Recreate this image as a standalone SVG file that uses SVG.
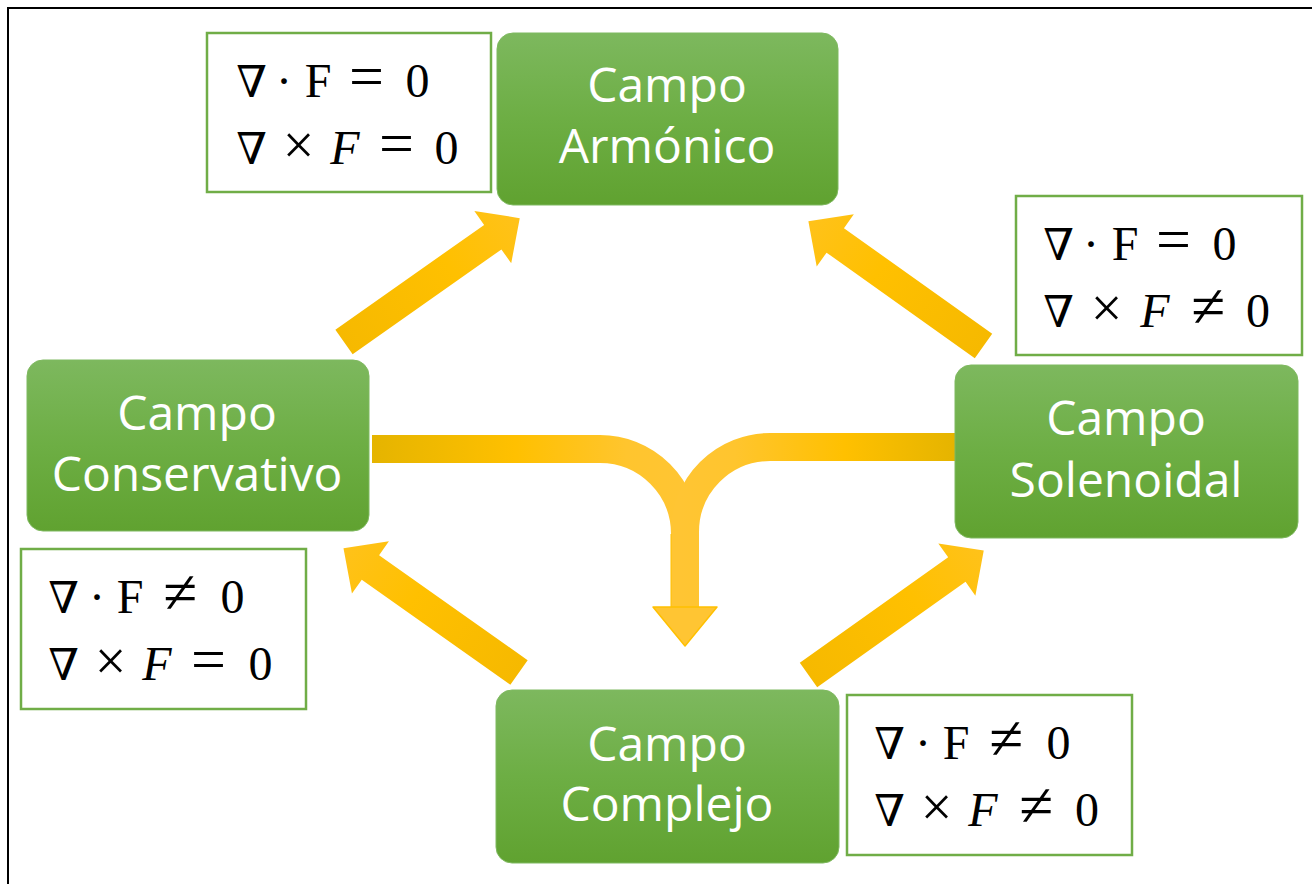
<svg xmlns="http://www.w3.org/2000/svg" width="1312" height="884" viewBox="0 0 1312 884">
<defs>
<linearGradient id="gNode" x1="0" y1="0" x2="0" y2="1">
<stop offset="0" stop-color="#7db85e"/>
<stop offset="0.5" stop-color="#6dae44"/>
<stop offset="1" stop-color="#60a230"/>
</linearGradient>
<linearGradient id="gArrow" x1="0" y1="0" x2="1" y2="0">
<stop offset="0" stop-color="#f6b900"/>
<stop offset="0.6" stop-color="#ffc000"/>
<stop offset="1" stop-color="#ffc21a"/>
</linearGradient>
<linearGradient id="gLeft" gradientUnits="userSpaceOnUse" x1="372" y1="0" x2="690" y2="0">
<stop offset="0" stop-color="#e5b400"/>
<stop offset="0.45" stop-color="#ffc000"/>
<stop offset="0.8" stop-color="#ffc52e"/>
<stop offset="1" stop-color="#ffc533"/>
</linearGradient>
<linearGradient id="gRight" gradientUnits="userSpaceOnUse" x1="955" y1="0" x2="680" y2="0">
<stop offset="0" stop-color="#e5b400"/>
<stop offset="0.4" stop-color="#ffc000"/>
<stop offset="0.8" stop-color="#ffc52e"/>
<stop offset="1" stop-color="#ffc533"/>
</linearGradient>
<path id="blockArrow" d="M0,-15 L182,-15 L182,-32 L215,0 L182,32 L182,15 L0,15 Z"/>
</defs>
<style>
.frame{fill:none;stroke:#000;stroke-width:2}
.node rect{fill:url(#gNode);stroke:#7fb960;stroke-width:1}
.node text{fill:#fff;font-family:"Open Sans","Noto Sans",sans-serif;font-size:48px;text-anchor:middle}
.fbox rect{fill:#fff;stroke:#70ad47;stroke-width:2.5}
.fbox text{fill:#000;font-family:"Liberation Serif","DejaVu Serif",serif;font-size:48px;text-anchor:middle}
.it{font-style:italic}
.op{font-size:62px}
.x{font-size:56px}
.nab{font-size:44px}
.arr{fill:url(#gArrow)}
</style>
<rect class="frame" x="8" y="8" width="1330" height="900"/>

<g id="connectors">
<use href="#blockArrow" class="arr" transform="translate(344,342) rotate(-35.17)"/>
<use href="#blockArrow" class="arr" transform="translate(983.5,346) rotate(-144.54)"/>
<use href="#blockArrow" class="arr" transform="translate(519,672.5) rotate(-144.72)"/>
<use href="#blockArrow" class="arr" transform="translate(808.5,675) rotate(-35.4)"/>
<path d="M372,449 H600 A85,85 0 0 1 685,534 V608" fill="none" stroke="url(#gLeft)" stroke-width="28"/>
<path d="M955,447 H770 A85,85 0 0 0 685,532 V608" fill="none" stroke="url(#gRight)" stroke-width="28"/>
<path d="M671,534 V607" fill="none" stroke="#ffc000" stroke-width="1"/>
<polygon points="653,607 717,607 685,646" fill="#ffc533" stroke="#ffc000" stroke-width="1.5" stroke-linejoin="round"/>
</g>

<g id="node-armonico" class="node">
<rect x="497" y="33" width="341" height="172" rx="16"/>
<text x="667" y="102">Campo</text>
<text x="667" y="163">Armónico</text>
</g>
<g id="node-conservativo" class="node">
<rect x="27" y="360" width="342" height="171" rx="16"/>
<text x="197" y="430">Campo</text>
<text x="197" y="491">Conservativo</text>
</g>
<g id="node-solenoidal" class="node">
<rect x="955" y="365" width="343" height="173" rx="16"/>
<text x="1126" y="435">Campo</text>
<text x="1126" y="497">Solenoidal</text>
</g>
<g id="node-complejo" class="node">
<rect x="496" y="690" width="343" height="173" rx="16"/>
<text x="667" y="761">Campo</text>
<text x="667" y="821">Complejo</text>
</g>

<g id="formula-armonico" class="fbox">
<rect x="207" y="33" width="284" height="159"/>
<text x="251.5 284 318 366.5 417.5" y="97"><tspan class="nab">∇</tspan>·F<tspan class="op">=</tspan>0</text>
<text y="164" x="251.5 298.5 345 396.5 446.5"><tspan class="nab">∇</tspan><tspan class="x">×</tspan><tspan class="it">F</tspan><tspan class="op">=</tspan>0</text>
</g>
<g id="formula-solenoidal" class="fbox">
<rect x="1016" y="196" width="286" height="159"/>
<text x="1058.5 1091 1125 1173.5 1224.5" y="260"><tspan class="nab">∇</tspan>·F<tspan class="op">=</tspan>0</text>
<text y="327" x="1058.5 1106.5 1155 1208 1258"><tspan class="nab">∇</tspan><tspan class="x">×</tspan><tspan class="it">F</tspan><tspan class="op">≠</tspan>0</text>
</g>
<g id="formula-conservativo" class="fbox">
<rect x="21" y="549" width="285" height="160"/>
<text x="63.5 97 130 180 232.5" y="613"><tspan class="nab">∇</tspan>·F<tspan class="op">≠</tspan>0</text>
<text y="680" x="63.5 110.5 157 208.5 260.5"><tspan class="nab">∇</tspan><tspan class="x">×</tspan><tspan class="it">F</tspan><tspan class="op">=</tspan>0</text>
</g>
<g id="formula-complejo" class="fbox">
<rect x="847" y="695" width="285" height="160"/>
<text x="889.5 923 956 1006 1058.5" y="759"><tspan class="nab">∇</tspan>·F<tspan class="op">≠</tspan>0</text>
<text y="826" x="889.5 936.5 983 1036 1087"><tspan class="nab">∇</tspan><tspan class="x">×</tspan><tspan class="it">F</tspan><tspan class="op">≠</tspan>0</text>
</g>
</svg>
